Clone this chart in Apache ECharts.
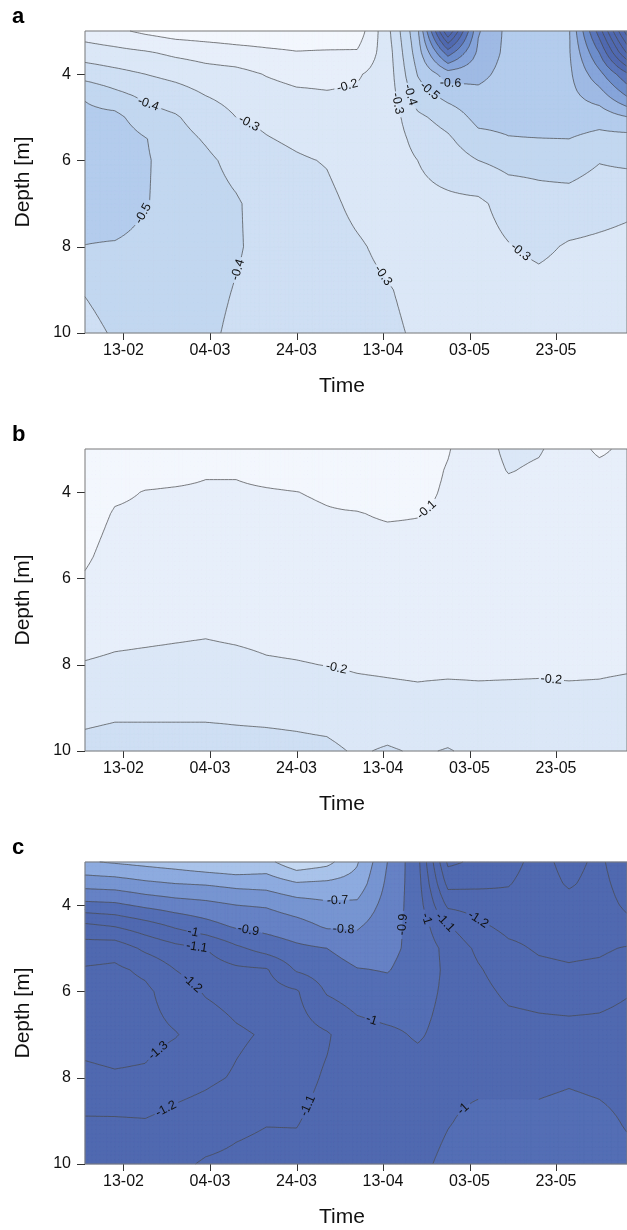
<!DOCTYPE html>
<html>
<head>
<meta charset="utf-8">
<title>Depth-time contours</title>
<script src="https://cdn.jsdelivr.net/npm/echarts@6/dist/echarts.min.js"></script>
<style>
  html, body { margin: 0; padding: 0; background: #fff; }
  #chart { width: 627px; height: 1230px; }
</style>
</head>
<body>
<div id="chart"></div>
<script>
// x axis: days counted from 13-02
const tickDays = [0, 20, 40, 60, 80, 100];
const tickLabels = ['13-02', '04-03', '24-03', '13-04', '03-05', '23-05'];
const depthTicks = [4, 6, 8, 10];

// sampling grid of the fields
const gridDays = [-9, -2, 5, 12, 19, 26, 33, 40, 47, 54, 61, 68, 75, 82, 89, 96, 103, 110, 117];
const gridDepths = [3, 3.5, 4, 4.5, 5, 5.5, 6, 7, 8, 9, 10];

// one column per grid day, values along gridDepths (top -> bottom)
const fieldA = [
  [-0.15, -0.25, -0.36, -0.49, -0.53, -0.545, -0.55, -0.545, -0.498, -0.405, -0.37],
  [-0.12, -0.23, -0.33, -0.43, -0.53, -0.56, -0.57, -0.56, -0.49, -0.44, -0.41],
  [-0.08, -0.21, -0.30, -0.38, -0.44, -0.505, -0.51, -0.505, -0.47, -0.45, -0.44],
  [-0.05, -0.18, -0.27, -0.35, -0.41, -0.44, -0.46, -0.47, -0.46, -0.45, -0.44],
  [-0.04, -0.16, -0.24, -0.30, -0.35, -0.39, -0.42, -0.44, -0.44, -0.43, -0.42],
  [-0.03, -0.14, -0.23, -0.27, -0.30, -0.335, -0.37, -0.41, -0.41, -0.395, -0.38],
  [-0.03, -0.12, -0.195, -0.24, -0.28, -0.305, -0.33, -0.36, -0.37, -0.37, -0.37],
  [-0.03, -0.105, -0.17, -0.22, -0.255, -0.285, -0.31, -0.34, -0.35, -0.355, -0.355],
  [-0.03, -0.11, -0.17, -0.21, -0.24, -0.265, -0.295, -0.32, -0.335, -0.34, -0.34],
  [-0.04, -0.11, -0.19, -0.215, -0.23, -0.24, -0.255, -0.28, -0.31, -0.325, -0.33],
  [-0.27, -0.25, -0.245, -0.24, -0.235, -0.235, -0.24, -0.255, -0.28, -0.305, -0.315],
  [-0.58, -0.55, -0.505, -0.45, -0.38, -0.335, -0.30, -0.275, -0.27, -0.28, -0.29],
  [-1.30, -0.95, -0.65, -0.53, -0.44, -0.385, -0.345, -0.28, -0.27, -0.27, -0.28],
  [-0.71, -0.68, -0.63, -0.57, -0.53, -0.47, -0.40, -0.28, -0.26, -0.26, -0.27],
  [-0.57, -0.57, -0.56, -0.55, -0.53, -0.495, -0.43, -0.34, -0.295, -0.26, -0.26],
  [-0.56, -0.57, -0.575, -0.57, -0.545, -0.498, -0.43, -0.365, -0.32, -0.27, -0.26],
  [-0.59, -0.59, -0.58, -0.57, -0.55, -0.50, -0.445, -0.36, -0.29, -0.26, -0.255],
  [-1.05, -0.90, -0.77, -0.65, -0.54, -0.47, -0.405, -0.34, -0.28, -0.26, -0.25],
  [-1.60, -1.35, -1.00, -0.82, -0.60, -0.46, -0.42, -0.32, -0.27, -0.25, -0.25]
];

const fieldB = [
  [-0.04, -0.05, -0.06, -0.07, -0.08, -0.09, -0.105, -0.15, -0.205, -0.27, -0.33],
  [-0.055, -0.07, -0.09, -0.105, -0.115, -0.125, -0.135, -0.165, -0.215, -0.28, -0.34],
  [-0.06, -0.08, -0.102, -0.11, -0.12, -0.13, -0.14, -0.17, -0.22, -0.28, -0.34],
  [-0.06, -0.085, -0.105, -0.112, -0.12, -0.13, -0.14, -0.175, -0.225, -0.28, -0.34],
  [-0.06, -0.095, -0.107, -0.113, -0.12, -0.13, -0.14, -0.18, -0.23, -0.28, -0.34],
  [-0.06, -0.095, -0.107, -0.113, -0.12, -0.128, -0.137, -0.17, -0.225, -0.28, -0.33],
  [-0.06, -0.085, -0.104, -0.11, -0.12, -0.127, -0.135, -0.165, -0.21, -0.275, -0.33],
  [-0.06, -0.08, -0.1005, -0.108, -0.115, -0.122, -0.13, -0.16, -0.205, -0.27, -0.325],
  [-0.06, -0.075, -0.095, -0.103, -0.112, -0.118, -0.125, -0.155, -0.198, -0.26, -0.32],
  [-0.06, -0.07, -0.085, -0.102, -0.11, -0.115, -0.12, -0.15, -0.19, -0.24, -0.29],
  [-0.06, -0.065, -0.075, -0.095, -0.108, -0.112, -0.118, -0.145, -0.185, -0.235, -0.31],
  [-0.065, -0.07, -0.08, -0.098, -0.108, -0.112, -0.117, -0.14, -0.18, -0.23, -0.29],
  [-0.095, -0.105, -0.11, -0.113, -0.116, -0.12, -0.125, -0.14, -0.18, -0.24, -0.305],
  [-0.15, -0.145, -0.14, -0.135, -0.132, -0.13, -0.13, -0.14, -0.182, -0.23, -0.28],
  [-0.225, -0.205, -0.17, -0.15, -0.14, -0.135, -0.133, -0.14, -0.184, -0.23, -0.27],
  [-0.21, -0.185, -0.16, -0.148, -0.14, -0.135, -0.133, -0.14, -0.186, -0.23, -0.27],
  [-0.15, -0.145, -0.14, -0.135, -0.133, -0.13, -0.13, -0.14, -0.182, -0.23, -0.27],
  [-0.08, -0.13, -0.135, -0.133, -0.13, -0.13, -0.13, -0.14, -0.185, -0.23, -0.27],
  [-0.13, -0.135, -0.135, -0.133, -0.13, -0.13, -0.13, -0.15, -0.19, -0.24, -0.28]
];

const fieldC = [
  [-0.61, -0.76, -0.93, -1.13, -1.25, -1.31, -1.33, -1.33, -1.28, -1.19, -1.16],
  [-0.59, -0.75, -0.92, -1.10, -1.26, -1.32, -1.34, -1.34, -1.29, -1.19, -1.15],
  [-0.57, -0.72, -0.88, -1.05, -1.18, -1.28, -1.32, -1.33, -1.285, -1.195, -1.14],
  [-0.55, -0.70, -0.85, -0.99, -1.13, -1.20, -1.25, -1.305, -1.245, -1.17, -1.12],
  [-0.52, -0.69, -0.83, -0.94, -1.10, -1.15, -1.19, -1.26, -1.22, -1.15, -1.09],
  [-0.50, -0.67, -0.80, -0.89, -1.02, -1.12, -1.16, -1.215, -1.19, -1.12, -1.08],
  [-0.53, -0.66, -0.79, -0.87, -0.96, -1.11, -1.14, -1.19, -1.16, -1.105, -1.07],
  [-0.43, -0.61, -0.75, -0.84, -0.92, -0.99, -1.11, -1.14, -1.13, -1.105, -1.075],
  [-0.47, -0.62, -0.72, -0.79, -0.90, -0.95, -0.99, -1.11, -1.09, -1.07, -1.06],
  [-0.59, -0.64, -0.72, -0.79, -0.85, -0.905, -0.95, -1.04, -1.06, -1.05, -1.04],
  [-0.80, -0.82, -0.84, -0.86, -0.875, -0.895, -0.93, -1.02, -1.04, -1.04, -1.03],
  [-0.97, -0.96, -0.95, -0.94, -0.93, -0.94, -0.96, -0.99, -1.04, -1.04, -1.02],
  [-1.42, -1.33, -1.22, -1.09, -1.03, -1.02, -1.02, -1.03, -1.02, -1.005, -0.98],
  [-1.38, -1.32, -1.24, -1.18, -1.12, -1.09, -1.07, -1.04, -1.02, -0.98, -0.96],
  [-1.33, -1.305, -1.27, -1.225, -1.18, -1.15, -1.12, -1.06, -1.02, -0.98, -0.96],
  [-1.27, -1.26, -1.25, -1.23, -1.21, -1.18, -1.13, -1.07, -1.02, -0.98, -0.96],
  [-1.33, -1.31, -1.27, -1.24, -1.22, -1.19, -1.14, -1.07, -1.01, -0.97, -0.96],
  [-1.28, -1.27, -1.26, -1.24, -1.215, -1.18, -1.13, -1.07, -1.02, -0.98, -0.97],
  [-1.38, -1.35, -1.32, -1.28, -1.19, -1.15, -1.105, -1.06, -1.03, -1.01, -0.98]
];

// contour labels: [day, depth, text]
const labelsA = [
  [5.9, 4.64, '-0.4'], [29.0, 5.14, '-0.3'], [51.7, 4.26, '-0.2'], [63.3, 4.68, '-0.3'],
  [67.2, 4.45, '-0.4'], [70.9, 4.37, '-0.5'], [75.6, 4.22, '-0.6'], [5.4, 7.3, '-0.5'],
  [26.6, 8.54, '-0.4'], [59.7, 8.69, '-0.3'], [91.2, 8.19, '-0.3']
];
const labelsB = [[69.7, 4.37, '-0.1'], [49.3, 8.05, '-0.2'], [98.8, 8.48, '-0.2']];
const labelsC = [
  [16.1, 4.61, '-1'], [17.0, 4.94, '-1.1'], [28.7, 4.66, '-0.9'], [49.5, 4.22, '-0.7'],
  [50.6, 4.73, '-0.8'], [64.9, 4.45, '-0.9'], [69.5, 4.33, '-1'], [74.9, 4.33, '-1.1'],
  [82.2, 4.29, '-1.2'], [15.3, 5.88, '-1.2'], [9.1, 7.5, '-1.3'], [9.6, 8.68, '-1.2'],
  [42.6, 8.65, '-1.1'], [57.5, 6.62, '-1'], [78.3, 8.70, '-1']
];

const panelLetters = ['a', 'b', 'c'];
const fields = [fieldA, fieldB, fieldC];
const labelSets = [labelsA, labelsB, labelsC];

// fill colour for each 0.1 band (0 .. -1.0 and below)
const coloursAB = ['#f3f7fd', '#e7effa', '#dbe7f7', '#cfdff4', '#c2d7f0', '#b4cced',
  '#9fbae4', '#86a5da', '#6d8dcb', '#5a76bb', '#5069b0'];
const coloursC = ['#f3f7fd', '#e7effa', '#dbe7f7', '#cfdff4', '#c5d8f2', '#a9c3ea',
  '#8dabdf', '#7795d1', '#6682c5', '#546eb5', '#5069b0'];
const palettes = [coloursAB, coloursAB, coloursC];
const FONT = "'Liberation Sans', Arial, Helvetica, sans-serif";
const tops = [31, 449, 862];
const plotH = 302;

function valueAt(field, t, d) {
  let i = 0;
  while (i < gridDays.length - 2 && t > gridDays[i + 1]) i++;
  let j = 0;
  while (j < gridDepths.length - 2 && d > gridDepths[j + 1]) j++;
  const fx = Math.min(1, Math.max(0, (t - gridDays[i]) / (gridDays[i + 1] - gridDays[i])));
  const fy = Math.min(1, Math.max(0, (d - gridDepths[j]) / (gridDepths[j + 1] - gridDepths[j])));
  return field[i][j] * (1 - fx) * (1 - fy) + field[i + 1][j] * fx * (1 - fy) +
    field[i][j + 1] * (1 - fx) * fy + field[i + 1][j + 1] * fx * fy;
}

function fineAxis(coarse, steps) {
  const out = [];
  for (let i = 0; i < coarse.length - 1; i++) {
    const n = steps(coarse[i], coarse[i + 1]);
    for (let k = 0; k < n; k++) out.push(coarse[i] + (coarse[i + 1] - coarse[i]) * k / n);
  }
  out.push(coarse[coarse.length - 1]);
  return out;
}
// drawing mesh clamped to the visible day range so no clip path is needed
const fineDays = fineAxis(gridDays, () => 8).map(t => Math.min(116.4, Math.max(-8.9, t)));
const fineDepths = fineAxis(gridDepths, (a, b) => Math.round((b - a) / 0.1));

const K = coloursAB.length;
const bandOf = u => Math.min(K - 1, Math.max(0, Math.floor(u)));
const f1 = n => n.toFixed(1);

function clipPoly(poly, a, above) {
  const out = [];
  for (let i = 0; i < poly.length; i++) {
    const p = poly[i], q = poly[(i + 1) % poly.length];
    const inP = above ? p.u >= a : p.u <= a;
    const inQ = above ? q.u >= a : q.u <= a;
    if (inP) out.push(p);
    if (inP !== inQ) {
      const s = (a - p.u) / (q.u - p.u);
      out.push({ x: p.x + (q.x - p.x) * s, y: p.y + (q.y - p.y) * s, u: a });
    }
  }
  return out;
}

function polyPath(poly) {
  let s = 'M' + f1(poly[0].x) + ' ' + f1(poly[0].y);
  for (let i = 1; i < poly.length; i++) s += 'L' + f1(poly[i].x) + ' ' + f1(poly[i].y);
  return s + 'Z';
}

function textWidth(str) {
  let w = 0;
  for (const ch of str) w += ch === '-' ? 4.2 : ch === '.' ? 3.5 : 7;
  return w;
}

function placeLabel(field, lab, X, Y, sx, sy) {
  const [t, d, text] = lab;
  const target = parseFloat(text);
  const val = (px, py) => valueAt(field, (px - X(0)) / sx, 3 + (py - Y(3)) / sy);
  let x = X(t), y = Y(d);
  const x0 = x, y0 = y;
  let gx = 0, gy = 0;
  for (let n = 0; n < 14; n++) {
    const v = val(x, y);
    gx = (val(x + 1, y) - val(x - 1, y)) / 2;
    gy = (val(x, y + 1) - val(x, y - 1)) / 2;
    const g2 = gx * gx + gy * gy;
    if (g2 < 1e-14) break;
    let dx = -(v - target) * gx / g2, dy = -(v - target) * gy / g2;
    const len = Math.hypot(dx, dy);
    if (len > 4) { dx *= 4 / len; dy *= 4 / len; }
    x += dx; y += dy;
  }
  if (Math.hypot(x - x0, y - y0) > 30) { x = x0; y = y0; }
  let ang = Math.atan2(gx, -gy);
  if (ang > Math.PI / 2) ang -= Math.PI;
  if (ang <= -Math.PI / 2) ang += Math.PI;
  return { x, y, ang, text, level: Math.round(-target * 10), hw: textWidth(text) / 2 + 2.5, hh: 6 };
}

function renderPanel(k, api) {
  const field = fields[k];
  const colours = palettes[k];
  const o = api.coord([0, 3]), q = api.coord([100, 10]);
  const sx = (q[0] - o[0]) / 100, sy = (q[1] - o[1]) / 7;
  const X = t => o[0] + sx * t, Y = d => o[1] + sy * (d - 3);
  const labels = labelSets[k].map(l => placeLabel(field, l, X, Y, sx, sy));

  const nx = fineDays.length, ny = fineDepths.length;
  const PX = fineDays.map(X), PY = fineDepths.map(Y);
  const U = new Float64Array(nx * ny);
  for (let i = 0; i < nx; i++)
    for (let j = 0; j < ny; j++) U[i * ny + j] = -valueAt(field, fineDays[i], fineDepths[j]) * 10;

  const bands = colours.map(() => []);
  const lines = [];
  const node = (i, j) => ({ x: PX[i], y: PY[j], u: U[i * ny + j] });

  function addSegments(tri) {
    const umin = Math.min(tri[0].u, tri[1].u, tri[2].u), umax = Math.max(tri[0].u, tri[1].u, tri[2].u);
    for (let L = Math.ceil(umin); L <= Math.floor(umax); L++) {
      if (L < 1) continue;
      const lv = L + 1e-7;
      const pts = [];
      for (let e = 0; e < 3; e++) {
        const p = tri[e], r = tri[(e + 1) % 3];
        if ((p.u - lv) * (r.u - lv) < 0) {
          const s = (lv - p.u) / (r.u - p.u);
          pts.push([p.x + (r.x - p.x) * s, p.y + (r.y - p.y) * s]);
        }
      }
      if (pts.length !== 2) continue;
      const mx = (pts[0][0] + pts[1][0]) / 2, my = (pts[0][1] + pts[1][1]) / 2;
      let hidden = false;
      for (const lb of labels) {
        if (lb.level !== L) continue;
        const dx = mx - lb.x, dy = my - lb.y;
        const c = Math.cos(lb.ang), s = Math.sin(lb.ang);
        if (Math.abs(dx * c + dy * s) < lb.hw && Math.abs(-dx * s + dy * c) < lb.hh) { hidden = true; break; }
      }
      if (!hidden) lines.push('M' + f1(pts[0][0]) + ' ' + f1(pts[0][1]) + 'L' + f1(pts[1][0]) + ' ' + f1(pts[1][1]));
    }
  }

  function addFill(tri) {
    const b0 = bandOf(Math.min(tri[0].u, tri[1].u, tri[2].u));
    const b1 = bandOf(Math.max(tri[0].u, tri[1].u, tri[2].u));
    if (b0 === b1) { bands[b0].push(polyPath(tri)); return; }
    for (let b = b0; b <= b1; b++) {
      let poly = tri;
      if (b > 0) poly = clipPoly(poly, b, true);
      if (poly.length >= 3 && b < K - 1) poly = clipPoly(poly, b + 1, false);
      if (poly.length >= 3) bands[b].push(polyPath(poly));
    }
  }

  for (let i = 0; i < nx - 1; i++) {
    if (PX[i + 1] - PX[i] < 0.01) continue;
    for (let j = 0; j < ny - 1; j++) {
      const a = node(i, j), b = node(i + 1, j), c = node(i + 1, j + 1), e = node(i, j + 1);
      const t1 = [a, b, c], t2 = [a, c, e];
      const ba = bandOf(a.u);
      const umin = Math.min(a.u, b.u, c.u, e.u), umax = Math.max(a.u, b.u, c.u, e.u);
      if (bandOf(umin) === ba && bandOf(umax) === ba) bands[ba].push(polyPath([a, b, c, e]));
      else { addFill(t1); addFill(t2); }
      if (Math.floor(umin) !== Math.floor(umax)) { addSegments(t1); addSegments(t2); }
    }
  }

  const children = [];
  bands.forEach((parts, b) => {
    if (!parts.length) return;
    children.push({
      type: 'path', shape: { pathData: parts.join('') },
      style: { fill: colours[b], stroke: colours[b], lineWidth: 0.6 }
    });
  });
  children.push({
    type: 'path', shape: { pathData: lines.join('') },
    style: { fill: 'none', stroke: '#474747', lineWidth: 0.7 }
  });
  labels.forEach(lb => {
    children.push({
      type: 'text', x: lb.x, y: lb.y, rotation: -lb.ang,
      style: {
        text: lb.text, fill: '#111', fontSize: 12.5, fontFamily: FONT,
        align: 'center', verticalAlign: 'middle'
      }
    });
  });

  // outward tick marks below and left of the panel
  let ticks = '';
  tickDays.forEach(t => {
    const x = Math.round(X(t)) + 0.5, y = Y(10);
    ticks += 'M' + x + ' ' + f1(y) + 'L' + x + ' ' + f1(y + 7);
  });
  depthTicks.forEach(d => {
    const y = Math.round(Y(d)) + 0.5, x = X(-8.9);
    ticks += 'M' + f1(x - 8) + ' ' + y + 'L' + f1(x) + ' ' + y;
  });
  children.push({
    type: 'path', shape: { pathData: ticks },
    style: { fill: 'none', stroke: '#333', lineWidth: 1 }
  });
  return { type: 'group', children };
}

const chart = echarts.init(document.getElementById('chart'));

const option = {
  animation: false,
  grid: tops.map(top => ({
    left: 85, top, width: 543, height: plotH, show: true, z: 5,
    borderColor: '#7b7b7b', borderWidth: 1, backgroundColor: 'transparent'
  })),
  xAxis: tops.map((_, k) => ({
    gridIndex: k, type: 'value', min: -8.9, max: 116.4, z: 6,
    axisLine: { show: false, onZero: false },
    splitLine: { show: false },
    axisTick: { show: false },
    axisLabel: {
      customValues: tickDays, margin: 10, fontSize: 16, color: '#111', fontFamily: FONT,
      formatter: v => { const i = tickDays.indexOf(v); return i >= 0 ? tickLabels[i] : ''; }
    }
  })),
  yAxis: tops.map((_, k) => ({
    gridIndex: k, type: 'value', inverse: true, min: 3, max: 10, z: 6,
    axisLine: { show: false, onZero: false },
    splitLine: { show: false },
    axisTick: { show: false },
    axisLabel: { customValues: depthTicks, margin: 14, fontSize: 16, color: '#111', fontFamily: FONT }
  })),
  series: tops.map((_, k) => ({
    type: 'custom', xAxisIndex: k, yAxisIndex: k, clip: false, silent: true, z: 2,
    data: [[50, 6]],
    encode: { x: 0, y: 1 },
    renderItem: (params, api) => renderPanel(k, api)
  })),
  graphic: [
    ...tops.map((top, k) => ({
      type: 'text', x: 12, y: top - 13.7, silent: true,
      style: { text: panelLetters[k], fill: '#000', font: 'bold 22px ' + FONT,
        align: 'left', verticalAlign: 'middle', textAlign: 'left', textVerticalAlign: 'middle' }
    })),
    ...tops.map(top => ({
      type: 'text', x: 23, y: top + plotH / 2, rotation: Math.PI / 2, silent: true,
      style: { text: 'Depth [m]', fill: '#111', font: '21px ' + FONT,
        align: 'center', verticalAlign: 'middle', textAlign: 'center', textVerticalAlign: 'middle' }
    })),
    ...tops.map(top => ({
      type: 'text', x: 342, y: top + plotH + 53, silent: true,
      style: { text: 'Time', fill: '#111', font: '21px ' + FONT,
        align: 'center', verticalAlign: 'middle', textAlign: 'center', textVerticalAlign: 'middle' }
    }))
  ]
};

chart.setOption(option);
window.addEventListener('resize', () => chart.resize());
</script>
</body>
</html>
